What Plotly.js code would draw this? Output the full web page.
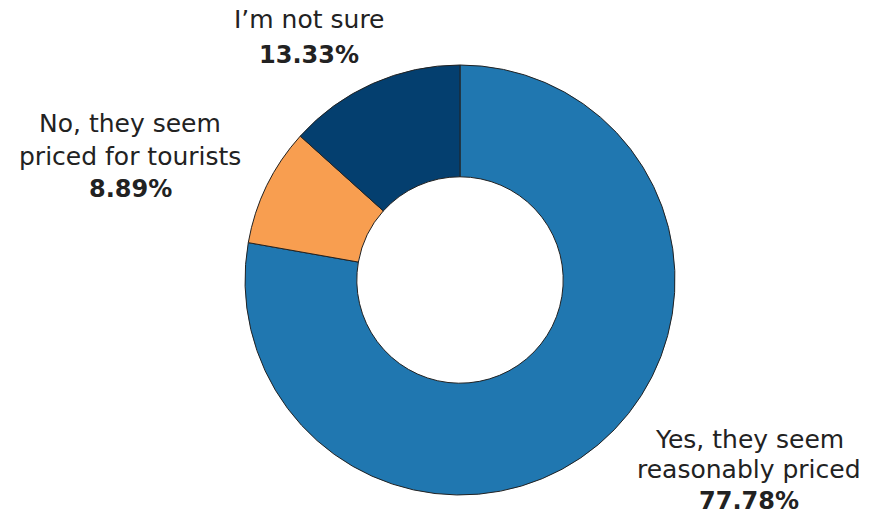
<!DOCTYPE html>
<html><head><meta charset="utf-8">
<script src="https://cdn.plot.ly/plotly-3.0.1.min.js"></script>
<style>html,body{margin:0;padding:0;background:#fff}</style>
</head><body>
<div id="chart" style="width:884px;height:516px"></div>
<script>
const labels = ["Yes, they seem reasonably priced", "No, they seem priced for tourists", "I\u2019m not sure"];
const labelLines = [["Yes, they seem", "reasonably priced"], ["No, they seem", "priced for tourists"], ["I\u2019m not sure"]];
const values = [77.78, 8.89, 13.33];
const colors = ["#2077B0", "#F89E50", "#043F6F"];

const W = 884, H = 516;
const cx = 460, cy = 280, R = 215;
// label anchor x and per-line y centres (pixels)
const labelX = [749, 130, 309];
const labelY = [[439, 469, 501], [124, 156, 189], [20, 55]];

const annotations = [];
labels.forEach((l, i) => {
  const lines = labelLines[i].concat(["<b>" + values[i].toFixed(2) + "%</b>"]);
  lines.forEach((t, j) => {
    annotations.push({
      xref: "paper", yref: "paper",
      x: labelX[i] / W, y: 1 - labelY[i][j] / H,
      xanchor: "center", yanchor: "middle",
      showarrow: false, align: "center",
      text: t,
      font: {family: "DejaVu Sans, sans-serif", size: j === lines.length - 1 ? 24 : 25, color: "#222"}
    });
  });
});

Plotly.newPlot("chart", [{
  type: "pie",
  labels: labels,
  values: values,
  hole: 0.48,
  sort: false,
  direction: "clockwise",
  rotation: 0,
  textinfo: "none",
  marker: {colors: colors, line: {color: "#222", width: 1}},
  domain: {x: [(cx - R) / W, (cx + R) / W], y: [(H - cy - R) / H, (H - cy + R) / H]},
  showlegend: false
}], {
  width: W, height: H,
  margin: {l: 0, r: 0, t: 0, b: 0},
  paper_bgcolor: "#fff",
  showlegend: false,
  annotations: annotations
}, {displayModeBar: false, staticPlot: true});
</script>
</body></html>
